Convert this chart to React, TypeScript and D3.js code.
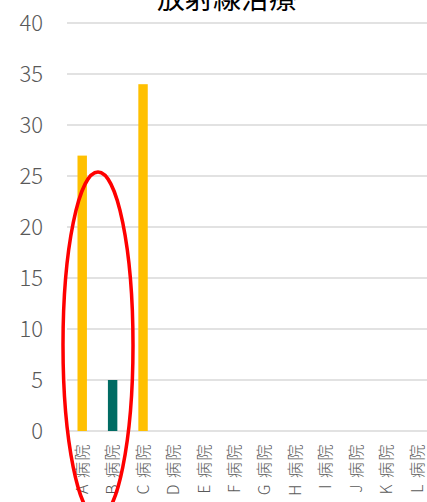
import * as d3 from "d3";

const categories = [
  "A 病院", "B 病院", "C 病院", "D 病院", "E 病院", "F 病院",
  "G 病院", "H 病院", "I 病院", "J 病院", "K 病院", "L 病院",
];
const otherValues = [27, 0, 34, 0, 0, 0, 0, 0, 0, 0, 0, 0];
const ownValues = [0, 5, 0, 0, 0, 0, 0, 0, 0, 0, 0, 0];
const yTicks = [0, 5, 10, 15, 20, 25, 30, 35, 40];
const title = "放射線治療";

export default function App() {
  const width = 427;
  const height = 502;
  const font = "'Noto Sans CJK JP', 'Noto Sans', sans-serif";
  const textColor = "#595959";

  const x = d3.scaleBand<string>().domain(categories).range([67, 432]).paddingInner(0.69).paddingOuter(0.345);
  const y = d3.scaleLinear().domain([0, 40]).range([431, 23]);

  const series = [
    { values: otherValues, color: "#FFC000" },
    { values: ownValues, color: "#006B63" },
  ];

  return (
    <svg
      width={width}
      height={height}
      style={{ position: "absolute", left: 0, top: 0, background: "#fff" }}
    >
      <text x={227} y={9} textAnchor="middle" fontFamily={font} fontSize={28} fill="#000">
        {title}
      </text>
      {yTicks.map((t) => (
        <g key={t}>
          <line x1={67} x2={width} y1={y(t)} y2={y(t)} stroke="#D9D9D9" strokeWidth={1.5} />
          <text
            x={43}
            y={y(t)}
            dy="0.36em"
            textAnchor="end"
            fontFamily={font}
            fontWeight={300}
            fontSize={22}
            fill={textColor}
          >
            {t}
          </text>
        </g>
      ))}
      {series.map((s, si) =>
        categories.map((c, i) =>
          s.values[i] > 0 ? (
            <rect
              key={`${si}-${c}`}
              x={x(c)}
              width={x.bandwidth()}
              y={y(s.values[i])}
              height={y(0) - y(s.values[i])}
              fill={s.color}
            />
          ) : null
        )
      )}
      {categories.map((c) => {
        const cx = (x(c) ?? 0) + x.bandwidth() / 2;
        return (
          <text
            key={c}
            transform={`translate(${cx},443) rotate(-90)`}
            dy="0.36em"
            textAnchor="end"
            fontFamily={font}
            fontWeight={300}
            fontSize={16}
            letterSpacing={1.5}
            fill={textColor}
            style={{ whiteSpace: "pre" }}
          >
            {c}
          </text>
        );
      })}
      <ellipse cx={98} cy={345} rx={35} ry={173} fill="none" stroke="#FF0000" strokeWidth={3.5} />
    </svg>
  );
}
